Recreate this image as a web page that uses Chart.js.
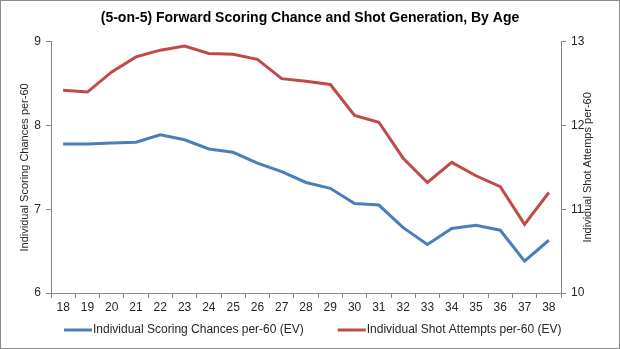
<!DOCTYPE html>
<html>
<head>
<meta charset="utf-8">
<script src="https://cdn.jsdelivr.net/npm/chart.js@4/dist/chart.umd.min.js"></script>
<style>
  html, body { margin: 0; padding: 0; background: #fff; }
  #wrap { position: relative; width: 620px; height: 349px; }
</style>
</head>
<body>
<div id="wrap"><canvas id="ageChart"></canvas></div>
<script>
// Data
var ages = ['18', '19', '20', '21', '22', '23', '24', '25', '26', '27', '28',
            '29', '30', '31', '32', '33', '34', '35', '36', '37', '38'];
var scoringChances = [7.78, 7.78, 7.79, 7.80, 7.89, 7.83, 7.72, 7.68, 7.55, 7.45, 7.32,
                      7.25, 7.07, 7.05, 6.78, 6.58, 6.77, 6.81, 6.75, 6.38, 6.63];
var shotAttempts = [12.42, 12.40, 12.64, 12.82, 12.90, 12.95, 12.86, 12.85, 12.79, 12.56, 12.53,
                    12.49, 12.12, 12.04, 11.61, 11.32, 11.56, 11.40, 11.27, 10.82, 11.20];
var leftTicks = [6, 7, 8, 9];
var rightTicks = [10, 11, 12, 13];

var axisGray = '#868686';
var textColor = '#262626';

Chart.defaults.font.family = "'Liberation Sans', Arial, sans-serif";
Chart.defaults.font.size = 12;
Chart.defaults.color = textColor;

// outer frame like the spreadsheet chart border
var framePlugin = {
    id: 'frame',
    afterDraw: function(chart) {
        var ctx = chart.ctx;
        ctx.save();
        ctx.strokeStyle = '#8c8c8c';
        ctx.lineWidth = 1;
        ctx.strokeRect(0.5, 0.5, chart.width - 1, chart.height - 1);
        ctx.restore();
    }
};

// right axis title reads bottom-to-top in the reference, so draw it here
var rightTitle = {
    id: 'rightTitle',
    afterDraw: function(chart) {
        var ctx = chart.ctx;
        var area = chart.chartArea;
        ctx.save();
        ctx.font = "11px 'Liberation Sans', Arial, sans-serif";
        ctx.fillStyle = textColor;
        ctx.translate(588, (area.top + area.bottom) / 2);
        ctx.rotate(-Math.PI / 2);
        ctx.textAlign = 'center';
        ctx.textBaseline = 'middle';
        ctx.fillText('Individual Shot Attemps per-60', 0, 0);
        ctx.restore();
    }
};

// legend drawn by hand: short line, small gap, label, wide gap between items
var lineLegend = {
    id: 'lineLegend',
    afterDraw: function(chart) {
        var ctx = chart.ctx;
        var sets = chart.data.datasets;
        var lineW = 28, gap = 1, itemGap = 34;
        ctx.save();
        ctx.font = "12px 'Liberation Sans', Arial, sans-serif";
        var total = 0;
        sets.forEach(function(ds, i) {
            total += lineW + gap + ctx.measureText(ds.label).width + (i ? itemGap : 0);
        });
        var x = Math.round(313 - total / 2);
        var y = 330;
        sets.forEach(function(ds, i) {
            if (i) x += itemGap;
            ctx.strokeStyle = ds.borderColor;
            ctx.lineWidth = 3;
            ctx.beginPath();
            ctx.moveTo(x, y);
            ctx.lineTo(x + lineW, y);
            ctx.stroke();
            x += lineW + gap;
            ctx.fillStyle = textColor;
            ctx.textBaseline = 'middle';
            ctx.textAlign = 'left';
            ctx.fillText(ds.label, x, y);
            x += ctx.measureText(ds.label).width;
        });
        ctx.restore();
    }
};

new Chart(document.getElementById('ageChart'), {
    type: 'line',
    data: {
        labels: ages,
        datasets: [{
            label: 'Individual Scoring Chances per-60 (EV)',
            data: scoringChances,
            yAxisID: 'y',
            borderColor: '#4a7ebb',
            backgroundColor: '#4a7ebb',
            borderWidth: 3,
            pointRadius: 0,
            tension: 0
        }, {
            label: 'Individual Shot Attempts per-60 (EV)',
            data: shotAttempts,
            yAxisID: 'y1',
            borderColor: '#be4b48',
            backgroundColor: '#be4b48',
            borderWidth: 3,
            pointRadius: 0,
            tension: 0
        }]
    },
    options: {
        responsive: true,
        maintainAspectRatio: false,
        animation: false,
        layout: { padding: { left: 0, right: 0, top: 0, bottom: 34 } },
        plugins: {
            title: {
                display: true,
                text: '(5-on-5) Forward Scoring Chance and Shot Generation, By Age',
                font: { size: 14, weight: 'bold' },
                color: '#000',
                padding: { top: 10, bottom: 15 }
            },
            legend: { display: false },
            tooltip: { enabled: false }
        },
        scales: {
            x: {
                offset: true,
                grid: {
                    display: true,
                    offset: true,
                    drawOnChartArea: false,
                    tickLength: 5,
                    color: axisGray
                },
                border: { display: true, color: axisGray, width: 1 },
                ticks: { maxRotation: 0, autoSkip: false, padding: 2 },
                afterFit: function(scale) { scale.height = 22; }
            },
            y: {
                position: 'left',
                min: 6,
                max: 9,
                afterBuildTicks: function(scale) {
                    scale.ticks = leftTicks.map(function(v) { return { value: v }; });
                },
                grid: { drawOnChartArea: false, tickLength: 5, color: axisGray },
                border: { display: true, color: axisGray, width: 1 },
                ticks: { padding: 5 },
                title: {
                    display: true,
                    text: 'Individual Scoring Chances per-60',
                    font: { size: 11 },
                    padding: { top: 18, bottom: 0 }
                },
                afterFit: function(scale) { scale.width = 51; }
            },
            y1: {
                position: 'right',
                min: 10,
                max: 13,
                afterBuildTicks: function(scale) {
                    scale.ticks = rightTicks.map(function(v) { return { value: v }; });
                },
                grid: { drawOnChartArea: false, tickLength: 5, color: axisGray },
                border: { display: true, color: axisGray, width: 1 },
                ticks: { padding: 5 },
                afterFit: function(scale) { scale.width = 59; }
            }
        }
    },
    plugins: [framePlugin, rightTitle, lineLegend]
});
</script>
</body>
</html>
